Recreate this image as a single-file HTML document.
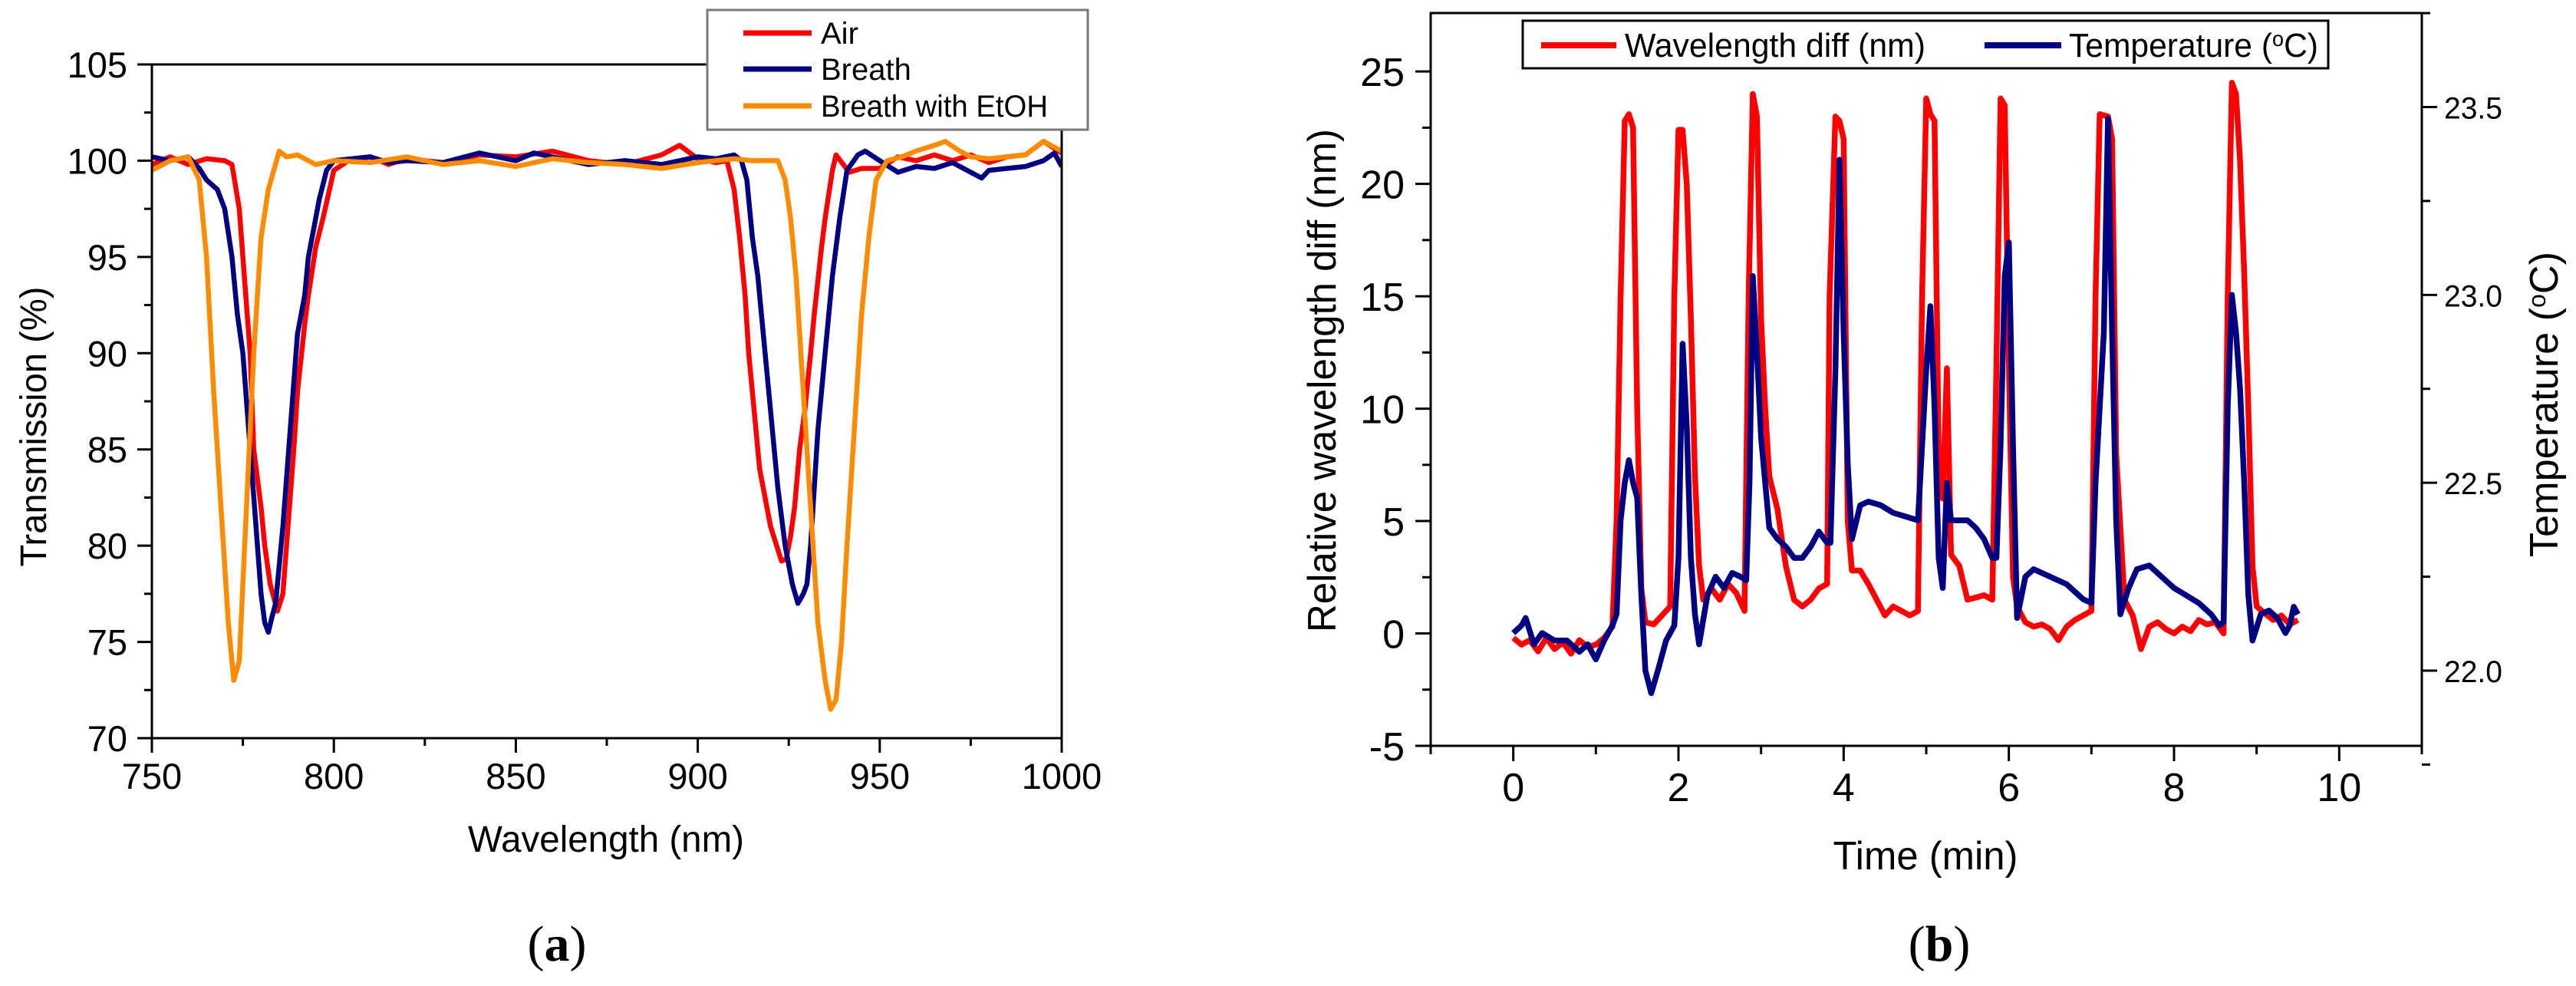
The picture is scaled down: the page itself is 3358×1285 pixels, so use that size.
<!DOCTYPE html>
<html><head><meta charset="utf-8"><style>
html,body{margin:0;padding:0;background:#fff;}
svg{display:block;font-family:"Liberation Sans",Arial,sans-serif;}
</style></head><body>
<svg id="fig" width="3358" height="1285" viewBox="0 0 3358 1285" xmlns="http://www.w3.org/2000/svg">
<g id="chartA"></g>
<g id="chartB"></g>
</svg>
<script>
// ---------- Chart (a) data ----------
const airWl = [750,755,760,765,770,772,774,775,777,778,780,781,782.5,784.5,786,787,789,790,792,793,795,797,800,804,810,815,820,830,840,850,860,870,880,890,895,900,905,908,910,911.5,913,914,916,917,919,920,922,923,924.3,925.5,926.6,928,929.4,931,932,934,935,937,938,941.6,945,950,955,960,965,970,975,980,985,990,995,1000];
const airT  = [99.8,100.2,99.8,100.1,100.0,99.8,97.5,95,90,85,82,80,78,76.6,77.5,80,85,88,91.5,93,95.5,97,99.5,100,100.2,99.8,100.1,99.9,100.3,100.2,100.5,100.0,99.8,100.3,100.8,100.1,99.9,100.0,98.5,96,93,90,86,84,82,81,79.8,79.2,79.3,80.5,82,85,87,90,92,95.5,97,99.5,100.3,99.4,99.6,99.6,100.2,100.0,100.3,100.0,100.3,99.9,100.2,100.3,101.0,100.4];
const brWl  = [750,755,760,763,765,768,770,772,773.5,775,777,779,780,781,782,783,784,786,788,790,792,793,795,796,798,800,805,810,815,820,830,840,850,855,860,870,880,890,900,905,910,912,913.5,915,916.5,918,920,922,924,926,927.5,929,930,931,933,935,937,939,941,944,946,950,955,960,965,970,975,978,980,985,990,995,998,1000];
const brT   = [100.2,100.0,100.2,99.6,99,98.5,97.5,95,92,90,85,80,77.5,76,75.5,76.3,77,81,86,91,93,95,97,98,99.5,100,100.1,100.2,99.9,100.0,99.9,100.4,100.0,100.4,100.2,99.8,100.0,99.8,100.2,100.1,100.3,100.0,99,96,94,91,87,83,80,78,77,77.5,78,80,86,90,94,97,99.5,100.3,100.5,100.0,99.4,99.7,99.6,99.9,99.4,99.1,99.5,99.6,99.7,100.0,100.4,99.7];
const etWl  = [750,755,760,763,765,767,769,771,772.5,774,776,778,780,782,785,787,790,795,800,810,820,830,840,850,860,870,880,890,900,910,915,920,922,924,925.5,927,929,931,933,935,936.5,938,939.5,941,943,945,947,949,952,956,960,965,968,972,975,980,985,990,995,1000];
const etT   = [99.5,100.0,100.2,99,95,88,82,76,73,74,82,90,96,98.5,100.5,100.2,100.3,99.8,100.0,99.9,100.2,99.8,100.0,99.7,100.1,99.9,99.8,99.6,99.9,100.1,100.0,100.0,100.0,99,97,94,88,82,76,73,71.5,72,75,80,86,92,96,99,100,100.2,100.5,100.8,101,100.5,100.2,100.1,100.2,100.3,101.0,100.5];
const aXTicks = [750,800,850,900,950,1000];
const aYTicks = [70,75,80,85,90,95,100,105];

// ---------- Chart (b) data ----------
const tRed = [0,0.1,0.2,0.3,0.4,0.5,0.6,0.7,0.8,0.9,1.0,1.1,1.2,1.25,1.3,1.35,1.4,1.45,1.5,1.55,1.6,1.7,1.8,1.9,1.95,2.0,2.05,2.1,2.15,2.2,2.25,2.3,2.4,2.5,2.6,2.7,2.8,2.85,2.9,2.95,3.0,3.05,3.1,3.2,3.3,3.4,3.5,3.6,3.7,3.8,3.83,3.9,3.95,4.0,4.05,4.1,4.2,4.3,4.4,4.5,4.6,4.7,4.8,4.9,4.95,5.0,5.05,5.1,5.15,5.2,5.25,5.3,5.4,5.5,5.6,5.7,5.8,5.85,5.9,5.95,6.0,6.05,6.1,6.2,6.3,6.4,6.5,6.6,6.7,6.8,6.9,7.0,7.05,7.1,7.2,7.25,7.3,7.4,7.5,7.6,7.7,7.8,7.9,8.0,8.1,8.2,8.3,8.4,8.5,8.6,8.65,8.7,8.75,8.8,8.85,8.9,8.95,9.0,9.1,9.2,9.3,9.4,9.5];
const vRed = [-0.2,-0.5,-0.3,-0.8,-0.2,-0.7,-0.4,-0.9,-0.3,-0.6,-0.5,-0.2,0.3,5,15,22.8,23.1,22.5,10,2,0.5,0.4,0.8,1.2,15,22.4,22.4,20,14,7,3,1.5,2,1.5,2.2,1.8,1,15,24,23,14,10,7,5.5,3,1.5,1.2,1.5,2,2.2,15,23,22.8,22,5,2.8,2.8,2.2,1.5,0.8,1.2,1,0.8,1,15,23.8,23.1,22.8,8,6,11.8,3.5,3,1.5,1.6,1.7,1.5,12,23.8,23.5,12,2.5,1.2,0.5,0.3,0.4,0.2,-0.3,0.3,0.6,0.8,1,15,23.1,23,22,8,1.5,0.8,-0.7,0.3,0.5,0.2,0,0.3,0.1,0.6,0.4,0.5,0,15,24.5,24,21,16,10,3,1.2,0.9,0.6,0.8,0.4,0.6];
const tBlue = [0,0.1,0.15,0.25,0.35,0.5,0.65,0.8,0.9,1.0,1.1,1.2,1.25,1.3,1.35,1.4,1.45,1.5,1.55,1.6,1.67,1.75,1.85,1.95,2.0,2.05,2.1,2.15,2.2,2.25,2.35,2.45,2.55,2.65,2.75,2.82,2.86,2.9,2.95,3.0,3.05,3.1,3.2,3.3,3.4,3.5,3.6,3.7,3.8,3.84,3.9,3.95,4.0,4.05,4.1,4.2,4.3,4.45,4.6,4.75,4.9,4.95,5.0,5.05,5.1,5.15,5.2,5.25,5.3,5.4,5.5,5.6,5.7,5.8,5.85,5.9,5.95,6.0,6.05,6.1,6.2,6.3,6.4,6.5,6.6,6.7,6.8,6.9,7.0,7.05,7.1,7.15,7.2,7.25,7.3,7.35,7.45,7.55,7.7,7.85,8.0,8.15,8.3,8.45,8.55,8.6,8.65,8.7,8.75,8.8,8.85,8.9,8.95,9.05,9.15,9.25,9.35,9.4,9.45,9.5];
const vBlue = [22.1,22.12,22.14,22.07,22.1,22.08,22.08,22.05,22.07,22.03,22.08,22.12,22.15,22.4,22.5,22.56,22.5,22.46,22.2,22.0,21.94,22.0,22.08,22.12,22.3,22.87,22.65,22.3,22.15,22.07,22.2,22.25,22.22,22.26,22.25,22.24,22.5,23.05,22.85,22.62,22.5,22.38,22.35,22.33,22.3,22.3,22.33,22.37,22.34,22.34,22.8,23.36,22.9,22.55,22.35,22.44,22.45,22.44,22.42,22.41,22.4,22.6,22.8,22.97,22.7,22.3,22.22,22.5,22.4,22.4,22.4,22.38,22.35,22.3,22.3,22.6,23.05,23.14,22.6,22.14,22.25,22.27,22.26,22.25,22.24,22.23,22.21,22.19,22.18,22.5,22.7,22.9,23.47,22.9,22.4,22.15,22.22,22.27,22.28,22.25,22.22,22.2,22.18,22.15,22.12,22.13,22.7,23.0,22.9,22.75,22.5,22.2,22.08,22.15,22.16,22.14,22.1,22.12,22.17,22.15];
const bXTicks = [0,2,4,6,8,10];
const bYTicks = [-5,0,5,10,15,20,25];
const bY2Ticks = [22.0,22.5,23.0,23.5];

const NS = "http://www.w3.org/2000/svg";
function mk(parent, tag, attrs, text) {
  const el = document.createElementNS(NS, tag);
  for (const k in attrs) el.setAttribute(k, attrs[k]);
  if (text !== undefined) el.textContent = text;
  parent.appendChild(el);
  return el;
}
function pathD(xs, ys, fx, fy) {
  return xs.map((x, i) => (i ? "L" : "M") + fx(x).toFixed(1) + "," + fy(ys[i]).toFixed(1)).join(" ");
}

// ---------- Chart (a) ----------
(function () {
  const g = document.getElementById("chartA");
  const L = 198, R = 1384, T = 84, B = 962;
  const ax = v => L + (v - 750) / 250 * (R - L);
  const ay = v => B - (v - 70) / 35 * (B - T);
  for (let v = 775; v < 1000; v += 50) {
    const t = mk(g, "line", {x1: ax(v), x2: ax(v), y1: B, y2: B + 10, stroke: "#000", "stroke-width": 3});
    
    
  }
  for (let v = 72.5; v < 105; v += 5) {
    const t = mk(g, "line", {x1: L - 10, x2: L, y1: ay(v), y2: ay(v), stroke: "#000", "stroke-width": 3});
    
    
  }
  aXTicks.forEach(v => {
    const t = mk(g, "line", {x1: ax(v), x2: ax(v), y1: B, y2: B + 19, stroke: "#000", "stroke-width": 3});
    
    
    const lb = mk(g, "text", {x: ax(v), y: B + 66, "font-size": 47, "text-anchor": "middle", fill: "#000"}, String(v));
    
    
  });
  aYTicks.forEach(v => {
    const t = mk(g, "line", {x1: L - 19, x2: L, y1: ay(v), y2: ay(v), stroke: "#000", "stroke-width": 3});
    
    
    const lb = mk(g, "text", {x: L - 32, y: ay(v) + 17, "font-size": 47, "text-anchor": "end", fill: "#000"}, String(v));
    
    
  });
  const clip = mk(g, "clipPath", {id: "clipA"});
  mk(clip, "rect", {x: L, y: T - 30, width: R - L, height: B - T + 30});
  const series = [[airWl, airT, "#ff0000", "air-line"], [brWl, brT, "#000080", "breath-line"], [etWl, etT, "#ff8c00", "breath-etoh-line"]];
  series.forEach(s => {
    const p = mk(g, "path", {d: pathD(s[0], s[1], ax, ay), fill: "none", stroke: s[2], "stroke-width": 6.5, "stroke-linejoin": "round", "clip-path": "url(#clipA)"});
    
    
  });
  const frame = mk(g, "rect", {x: L, y: T, width: R - L, height: B - T, fill: "none", stroke: "#000", "stroke-width": 3});
  
  
  const lg = mk(g, "g", {});
  
  
  mk(lg, "rect", {x: 922, y: 13, width: 496, height: 156, fill: "#fff", stroke: "#777", "stroke-width": 3});
  const names = ["Air", "Breath", "Breath with EtOH"], cols = ["#ff0000", "#000080", "#ff8c00"], ly = [43, 90, 138];
  names.forEach((n, i) => {
    const e = mk(lg, "g", {});
    
    
    mk(e, "line", {x1: 969, x2: 1058, y1: ly[i], y2: ly[i], stroke: cols[i], "stroke-width": 7});
    const tx = {x: 1070, y: ly[i] + 14, "font-size": 40, fill: "#000"};
    if (i === 2) { tx.textLength = 296; tx.lengthAdjust = "spacingAndGlyphs"; }
    mk(e, "text", tx, n);
  });
  const xt = mk(g, "text", {x: 790, y: 1110, "font-size": 48, "text-anchor": "middle", fill: "#000", textLength: 360, lengthAdjust: "spacingAndGlyphs"}, "Wavelength (nm)");
  
  
  const yt = mk(g, "text", {x: 0, y: 0, "font-size": 48, "text-anchor": "middle", fill: "#000", transform: "translate(60,556) rotate(-90)", textLength: 365, lengthAdjust: "spacingAndGlyphs"}, "Transmission (%)");
  
  
  const cap = mk(g, "text", {x: 726, y: 1252, "font-size": 66, "text-anchor": "middle", fill: "#000", "font-family": "Liberation Serif, serif"});
  
  
  cap.innerHTML = '(<tspan font-weight="bold">a</tspan>)';
})();

// ---------- Chart (b) ----------
(function () {
  const g = document.getElementById("chartB");
  const L = 1865, R = 3157, T = 17, B = 972;
  const bx = v => L + (v + 1) / 12 * (R - L);
  const by = v => B - (v + 5) / 32.6 * (B - T);
  const by2 = v => 874 - (v - 22.0) / 1.5 * (874 - 139.5);
  for (let v = -1; v <= 11; v += 1) {
    if (bXTicks.includes(v)) continue;
    const t = mk(g, "line", {x1: bx(v), x2: bx(v), y1: B, y2: B + 11, stroke: "#000", "stroke-width": 3});
    
    
  }
  for (let v = -2.5; v < 27; v += 5) {
    const t = mk(g, "line", {x1: L - 11, x2: L, y1: by(v), y2: by(v), stroke: "#000", "stroke-width": 3});
    
    
  }
  for (let v = 21.75; v < 23.8; v += 0.5) {
    const t = mk(g, "line", {x1: R, x2: R + 11, y1: by2(v), y2: by2(v), stroke: "#000", "stroke-width": 3});
    
    
  }
  bXTicks.forEach(v => {
    const t = mk(g, "line", {x1: bx(v), x2: bx(v), y1: B, y2: B + 20, stroke: "#000", "stroke-width": 3});
    
    
    const lb = mk(g, "text", {x: bx(v), y: B + 72, "font-size": 52, "text-anchor": "middle", fill: "#000"}, String(v));
    
    
  });
  bYTicks.forEach(v => {
    const t = mk(g, "line", {x1: L - 20, x2: L, y1: by(v), y2: by(v), stroke: "#000", "stroke-width": 3});
    
    
    const lb = mk(g, "text", {x: L - 34, y: by(v) + 19, "font-size": 52, "text-anchor": "end", fill: "#000"}, String(v));
    
    
  });
  bY2Ticks.forEach(v => {
    const t = mk(g, "line", {x1: R, x2: R + 20, y1: by2(v), y2: by2(v), stroke: "#000", "stroke-width": 3});
    
    
    const lb = mk(g, "text", {x: R + 29, y: by2(v) + 15, "font-size": 40, "text-anchor": "start", fill: "#000", textLength: 76, lengthAdjust: "spacingAndGlyphs"}, v.toFixed(1));
    
    
  });
  const pr = mk(g, "path", {d: pathD(tRed, vRed, bx, by), fill: "none", stroke: "#ff0000", "stroke-width": 7.5, "stroke-linejoin": "round"});
  
  
  const pb = mk(g, "path", {d: pathD(tBlue, vBlue, bx, by2), fill: "none", stroke: "#000080", "stroke-width": 7.5, "stroke-linejoin": "round"});
  
  
  const frame = mk(g, "rect", {x: L, y: T, width: R - L, height: B - T, fill: "none", stroke: "#000", "stroke-width": 3});
  
  
  const lg = mk(g, "g", {});
  
  
  mk(lg, "rect", {x: 1985, y: 27, width: 1050, height: 62, fill: "#fff", stroke: "#000", "stroke-width": 3});
  const e1 = mk(lg, "g", {});
  
  
  mk(e1, "line", {x1: 2009, x2: 2107, y1: 59, y2: 59, stroke: "#ff0000", "stroke-width": 8});
  mk(e1, "text", {x: 2118, y: 74, "font-size": 44, fill: "#000", textLength: 392, lengthAdjust: "spacingAndGlyphs"}, "Wavelength diff (nm)");
  const e2 = mk(lg, "g", {});
  
  
  mk(e2, "line", {x1: 2587, x2: 2687, y1: 59, y2: 59, stroke: "#000080", "stroke-width": 8});
  const t2 = mk(e2, "text", {x: 2697, y: 74, "font-size": 44, fill: "#000", textLength: 325, lengthAdjust: "spacingAndGlyphs"});
  t2.innerHTML = 'Temperature (<tspan dy="-14" font-size="28">o</tspan><tspan dy="14">C)</tspan>';
  const xt = mk(g, "text", {x: 2510, y: 1133, "font-size": 52, "text-anchor": "middle", fill: "#000", textLength: 241, lengthAdjust: "spacingAndGlyphs"}, "Time (min)");
  
  
  const yt = mk(g, "text", {x: 0, y: 0, "font-size": 52, "text-anchor": "middle", fill: "#000", transform: "translate(1741,496) rotate(-90)", textLength: 656, lengthAdjust: "spacingAndGlyphs"}, "Relative wavelength diff (nm)");
  
  
  const y2 = mk(g, "text", {x: 0, y: 0, "font-size": 52, "text-anchor": "middle", fill: "#000", transform: "translate(3334,527) rotate(-90)", textLength: 398, lengthAdjust: "spacingAndGlyphs"});
  
  
  y2.innerHTML = 'Temperature (<tspan dy="-16" font-size="32">o</tspan><tspan dy="16">C)</tspan>';
  const cap = mk(g, "text", {x: 2528, y: 1252, "font-size": 66, "text-anchor": "middle", fill: "#000", "font-family": "Liberation Serif, serif"});
  
  
  cap.innerHTML = '(<tspan font-weight="bold">b</tspan>)';
})();
</script>
</body></html>
